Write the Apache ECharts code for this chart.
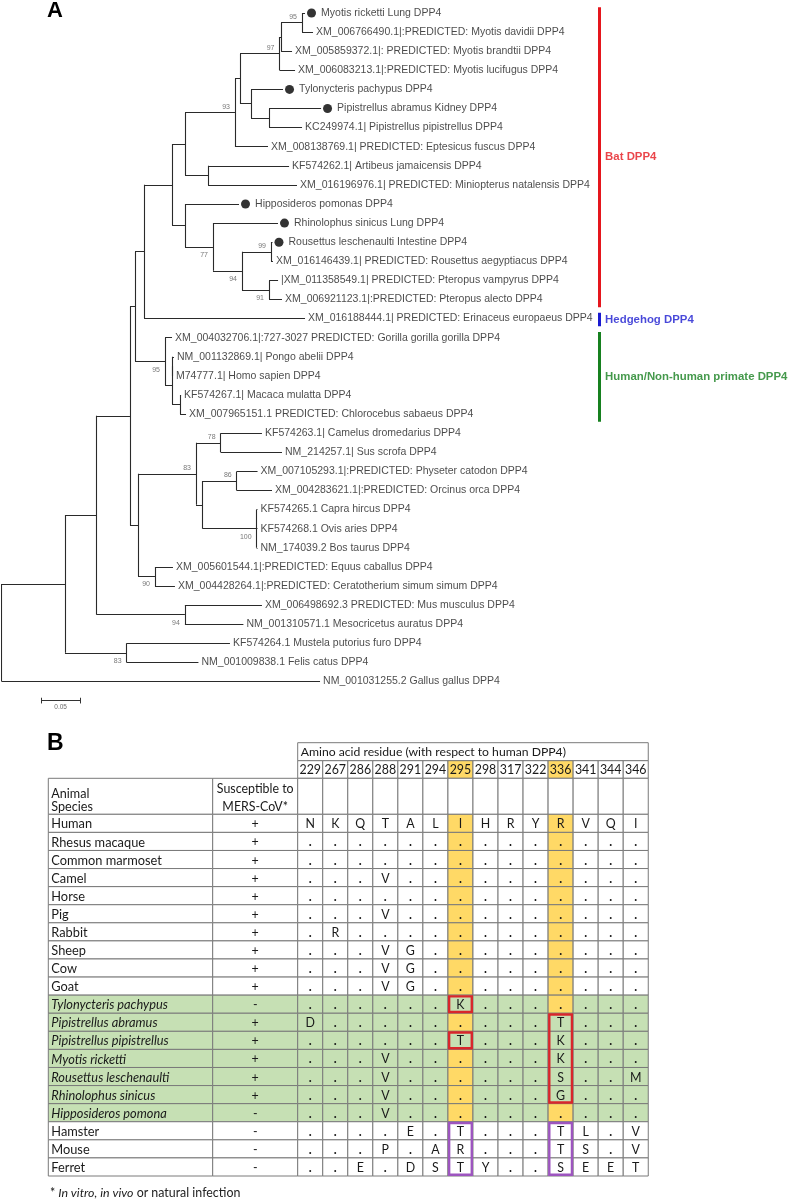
<!DOCTYPE html>
<html><head><meta charset="utf-8">
<script src="https://cdn.jsdelivr.net/npm/echarts@6/dist/echarts.min.js"></script>
<style>html,body{margin:0;padding:0;background:#fff}#c{width:790px;height:1199px}</style>
</head><body><div id="c"></div>
<script>
// ================= Panel A data =================
const leafLabels = [
  'Myotis ricketti Lung DPP4',
  'XM_006766490.1|:PREDICTED: Myotis davidii DPP4',
  'XM_005859372.1|: PREDICTED: Myotis brandtii DPP4',
  'XM_006083213.1|:PREDICTED: Myotis lucifugus DPP4',
  'Tylonycteris pachypus DPP4',
  'Pipistrellus abramus Kidney DPP4',
  'KC249974.1| Pipistrellus pipistrellus DPP4',
  'XM_008138769.1| PREDICTED: Eptesicus fuscus DPP4',
  'KF574262.1| Artibeus jamaicensis DPP4',
  'XM_016196976.1| PREDICTED: Miniopterus natalensis DPP4',
  'Hipposideros pomonas DPP4',
  'Rhinolophus sinicus Lung DPP4',
  'Rousettus leschenaulti Intestine DPP4',
  'XM_016146439.1| PREDICTED: Rousettus aegyptiacus DPP4',
  '|XM_011358549.1| PREDICTED: Pteropus vampyrus DPP4',
  'XM_006921123.1|:PREDICTED: Pteropus alecto DPP4',
  'XM_016188444.1| PREDICTED: Erinaceus europaeus DPP4',
  'XM_004032706.1|:727-3027 PREDICTED: Gorilla gorilla gorilla DPP4',
  'NM_001132869.1| Pongo abelii DPP4',
  'M74777.1| Homo sapien DPP4',
  'KF574267.1| Macaca mulatta DPP4',
  'XM_007965151.1 PREDICTED: Chlorocebus sabaeus DPP4',
  'KF574263.1| Camelus dromedarius DPP4',
  'NM_214257.1| Sus scrofa DPP4',
  'XM_007105293.1|:PREDICTED: Physeter catodon DPP4',
  'XM_004283621.1|:PREDICTED: Orcinus orca DPP4',
  'KF574265.1 Capra hircus DPP4',
  'KF574268.1 Ovis aries DPP4',
  'NM_174039.2 Bos taurus DPP4',
  'XM_005601544.1|:PREDICTED: Equus caballus DPP4',
  'XM_004428264.1|:PREDICTED: Ceratotherium simum simum DPP4',
  'XM_006498692.3 PREDICTED: Mus musculus DPP4',
  'NM_001310571.1 Mesocricetus auratus DPP4',
  'KF574264.1 Mustela putorius furo DPP4',
  'NM_001009838.1 Felis catus DPP4',
  'NM_001031255.2 Gallus gallus DPP4'
];
// leaves carrying a filled circle (sequences from this study)
const markedLeaves = [0, 4, 5, 10, 11, 12];
// tree topology: leaf names are indices into leafLabels, internal labels are bootstrap values
const treeNewick =
  "((((((((((((" +
  "(0:0.0038,1:0.014)95" +
  ":0.0267,2:0.014)" +
  ":0.0019,3:0.0197)97" +
  ":0.0503,(4:0.0407,(5:0.0662,6:0.042):0.0229):0.014)" +
  ":0.0064,7:0.042)93" +
  ":0.0636,(8:0.1031,9:0.1132):0.0293)" +
  ":0.0165,(10:0.0687,(11:0.0827,((12:0.0019,13:0.0025)99:0.0369,(14:0.0115,15:0.0165)91:0.0344)94:0.0369)77:0.0356):0.0165)" +
  ":0.0356,16:0.2048)" +
  ":0.0115,(17:0.0089,((18:0.0019,19:0.0006):0.0006,(20:0.0013,21:0.0076):0.0102):0.0089)95:0.0382)" +
  ":0.0064,(((22:0.0525,23:0.078)78:0.0314,((24:0.0265,25:0.0449)86:0.0433,(26:0.001,27:0.001,28:0.001)100:0.0687):0.0085)83:0.0738,(29:0.0229,30:0.0254)90:0.0216):0.0102)" +
  ":0.0424,(31:0.098,32:0.0744)94:0.1123)" +
  ":0.0403,(33:0.1314,34:0.0913)83:0.0785)" +
  ":0.0805,35:0.405);";
const cladeNames = ['Bat DPP4', 'Hedgehog DPP4', 'Human/Non-human primate DPP4'];
const cladeFirstLeaf = [0, 16, 17];
const cladeLastLeaf = [15, 16, 21];
const cladeColors = ['#e5161d', '#1a1ad0', '#16801f'];
const scaleBarValue = 0.05;
const scaleBarLabel = '0.05';

// ================= Panel B data =================
const tableTitle = 'Amino acid residue (with respect to human DPP4)';
const headerSpecies = 'Animal\nSpecies';
const headerSusceptible = 'Susceptible to\nMERS-CoV*';
const positions = ['229','267','286','288','291','294','295','298','317','322','336','341','344','346'];
const highlightPositions = ['295', '336'];
const species = ['Human','Rhesus macaque','Common marmoset','Camel','Horse','Pig','Rabbit','Sheep','Cow','Goat',
  'Tylonycteris pachypus','Pipistrellus abramus','Pipistrellus pipistrellus','Myotis ricketti',
  'Rousettus leschenaulti','Rhinolophus sinicus','Hipposideros pomona','Hamster','Mouse','Ferret'];
const batSpecies = ['Tylonycteris pachypus','Pipistrellus abramus','Pipistrellus pipistrellus','Myotis ricketti',
  'Rousettus leschenaulti','Rhinolophus sinicus','Hipposideros pomona'];
const susceptible = ['+','+','+','+','+','+','+','+','+','+','-','+','+','+','+','+','-','-','-','-'];
const residues = [
  'NKQTALIHRYRVQI',
  '..............',
  '..............',
  '...V..........',
  '..............',
  '...V..........',
  '.R............',
  '...VG.........',
  '...VG.........',
  '...VG.........',
  '......K.......',
  'D.........T...',
  '......T...K...',
  '...V......K...',
  '...V......S..M',
  '...V......G...',
  '...V..........',
  '....E.T...TL.V',
  '...P.AR...TS.V',
  '..E.DSTY..SEET'
];
// boxes: [position, first species, last species]
const redBoxes = [['295','Tylonycteris pachypus','Tylonycteris pachypus'],
                  ['295','Pipistrellus pipistrellus','Pipistrellus pipistrellus'],
                  ['336','Pipistrellus abramus','Rhinolophus sinicus']];
const purpleBoxes = [['295','Hamster','Ferret'], ['336','Hamster','Ferret']];
const footnoteParts = ['*', ' In vitro, in vivo', ' or natural infection'];

// ================= layout / style constants =================
const TREE_FONT = "'Liberation Sans', Arial, sans-serif";
const TABLE_FONT = "Lato, 'Open Sans', sans-serif";
const CLADE_BAR_X = 0.76;
const GREEN = '#c6e0b4', YELLOW = '#ffd966', GRIDLINE = '#7a7a7a';
const RED = '#d9262b', PURPLE = '#9d55bf';
const TW = {species: 164.4, susc: 85, res: 25.04};
const TH = {title: 18, pos: 17.6, head: 36, row: 18.085};

// ================= tree building =================
function parseNewick(s) {
  let i = 0;
  function node() {
    const n = {children: []};
    if (s[i] === '(') {
      i++;
      n.children.push(node());
      while (s[i] === ',') { i++; n.children.push(node()); }
      i++;
    }
    let name = '';
    while (i < s.length && !':,);'.includes(s[i])) name += s[i++];
    n.len = 0;
    if (s[i] === ':') {
      i++; let len = '';
      while (i < s.length && !',);'.includes(s[i])) len += s[i++];
      n.len = parseFloat(len);
    }
    if (n.children.length) n.support = name; else n.leaf = parseInt(name, 10);
    return n;
  }
  return node();
}
const tree = parseNewick(treeNewick);
const tips = [];
(function place(n, depth) {
  n.x = depth;
  if (n.children.length) {
    n.children.forEach(c => place(c, depth + c.len));
    n.y = (n.children[0].y + n.children[n.children.length - 1].y) / 2;
  } else { n.y = n.leaf; tips[n.leaf] = depth; }
})(tree, 0);
const segments = [], supports = [];
(function walk(n) {
  if (!n.children.length) return;
  const f = n.children[0], l = n.children[n.children.length - 1];
  segments.push([[n.x, f.y], [n.x, l.y]]);
  n.children.forEach((c, i) => {
    segments.push([[n.x, c.y], [c.x, c.y]]);
    if (c.children.length && c.support) supports.push({value: [c.x, c.y], text: c.support, above: i === 0});
    walk(c);
  });
})(tree);

// ================= table building =================
const resX = k => TW.species + TW.susc + k * TW.res;
const rowTop = r => TH.title + TH.pos + TH.head + r * TH.row;
const toBox = (b, color) => ({col: b[0], r0: species.indexOf(b[1]), r1: species.indexOf(b[2]), color});
const boxes = redBoxes.map(b => toBox(b, RED)).concat(purpleBoxes.map(b => toBox(b, PURPLE)));
const cells = [];
cells.push({x0: resX(0), y0: 0, x1: resX(positions.length), y1: TH.title, text: tableTitle, align: 'left', fill: '#fff', size: 12.2});
positions.forEach((p, k) => cells.push({x0: resX(k), y0: TH.title, x1: resX(k + 1), y1: TH.title + TH.pos, text: p,
  fill: highlightPositions.includes(p) ? YELLOW : '#fff'}));
const hy0 = TH.title + TH.pos, hy1 = hy0 + TH.head;
cells.push({x0: 0, y0: hy0, x1: TW.species, y1: hy1, text: headerSpecies, align: 'left', lineHeight: 13, dy: 4.5, fill: '#fff', size: 12.6});
cells.push({x0: TW.species, y0: hy0, x1: resX(0), y1: hy1, text: headerSusceptible, lineHeight: 18, dy: 2, fill: '#fff'});
positions.forEach((p, k) => cells.push({x0: resX(k), y0: hy0, x1: resX(k + 1), y1: hy1, text: '', fill: '#fff'}));
species.forEach((s, r) => {
  const bat = batSpecies.includes(s);
  const base = bat ? GREEN : '#fff';
  const y0 = rowTop(r), y1 = y0 + TH.row;
  cells.push({x0: 0, y0, x1: TW.species, y1, text: s, align: 'left', italic: bat, fill: base, dy: 1, size: 12.8});
  cells.push({x0: TW.species, y0, x1: resX(0), y1, text: susceptible[r], fill: base, dy: 1});
  residues[r].split('').forEach((ch, k) => {
    const p = positions[k];
    const inBox = boxes.some(b => b.col === p && r >= b.r0 && r <= b.r1);
    cells.push({x0: resX(k), y0, x1: resX(k + 1), y1, text: ch, dy: 1, bold: ch === '.',
      fill: highlightPositions.includes(p) && !inBox ? YELLOW : base});
  });
});
const boxRects = boxes.map(b => {
  const k = positions.indexOf(b.col);
  return {x0: resX(k), y0: rowTop(b.r0), x1: resX(k + 1), y1: rowTop(b.r1) + TH.row, color: b.color};
});

// ================= chart =================
const chart = echarts.init(document.getElementById('c'), null, {renderer: 'canvas'});
const ROW_PX = 19.1, UNIT_PX = 786;
const Y_MIN = -0.5, Y_MAX = 36.5, X_MAX = 0.8;

const option = {
  animation: false,
  backgroundColor: '#fff',
  grid: [
    {left: 1.7, top: 13 + Y_MIN * ROW_PX, width: X_MAX * UNIT_PX, height: (Y_MAX - Y_MIN) * ROW_PX},
    {left: 48.3, top: 742.7, width: 600, height: rowTop(species.length)}
  ],
  xAxis: [
    {gridIndex: 0, type: 'value', min: 0, max: X_MAX, show: false},
    {gridIndex: 1, type: 'value', min: 0, max: 600, show: false}
  ],
  yAxis: [
    {gridIndex: 0, type: 'value', min: Y_MIN, max: Y_MAX, inverse: true, show: false},
    {gridIndex: 1, type: 'value', min: 0, max: rowTop(species.length), inverse: true, show: false}
  ],
  graphic: [
    {type: 'text', left: 47, top: 0, style: {text: 'A', font: "bold 22px 'Liberation Sans', Arial", fill: '#000'}},
    {type: 'text', left: 47, top: 732, style: {text: 'B', font: "bold 23px 'Liberation Sans', Arial", fill: '#000'}},
    {type: 'text', left: 50, top: 1187, style: {
      text: '{n|' + footnoteParts[0] + '}{i|' + footnoteParts[1] + '}{n|' + footnoteParts[2] + '}',
      rich: {n: {fontFamily: 'Lato', fontSize: 12.4, fill: '#222'},
             i: {fontFamily: 'Lato', fontSize: 12.4, fontStyle: 'italic', fill: '#222'}}}}
  ],
  series: [
    {type: 'lines', coordinateSystem: 'cartesian2d', xAxisIndex: 0, yAxisIndex: 0, silent: true,
     lineStyle: {color: '#2a2a2a', width: 1.1, opacity: 1, curveness: 0},
     data: segments.map(s => ({coords: s}))},
    {type: 'scatter', xAxisIndex: 0, yAxisIndex: 0, silent: true, symbolSize: 9, symbolOffset: [6.5, 0],
     itemStyle: {color: '#000'}, data: markedLeaves.map(i => [tips[i], i])},
    {type: 'scatter', xAxisIndex: 0, yAxisIndex: 0, silent: true, symbolSize: 0.1,
     itemStyle: {color: 'transparent'},
     label: {show: true, position: 'right', fontFamily: TREE_FONT, fontSize: 10.5, color: '#1a1a1a',
             formatter: p => p.name},
     data: leafLabels.map((t, i) => ({name: t, value: [tips[i], i],
       label: {distance: markedLeaves.includes(i) ? 16 : 3}}))},
    {type: 'scatter', xAxisIndex: 0, yAxisIndex: 0, silent: true, symbolSize: 0.1,
     itemStyle: {color: 'transparent'},
     label: {show: true, position: 'left', distance: 5, fontFamily: TREE_FONT, fontSize: 7, color: '#555',
             formatter: p => p.name},
     data: supports.map(s => ({name: s.text, value: s.value, label: {offset: [0, s.above ? -5.5 : 8]}}))},
    {type: 'lines', coordinateSystem: 'cartesian2d', xAxisIndex: 0, yAxisIndex: 0, silent: true,
     data: cladeNames.map((n, i) => ({coords: [[CLADE_BAR_X, cladeFirstLeaf[i] - 0.3], [CLADE_BAR_X, cladeLastLeaf[i] + 0.4]],
       lineStyle: {color: cladeColors[i], width: 3, opacity: 1}}))},
    {type: 'scatter', xAxisIndex: 0, yAxisIndex: 0, silent: true, symbolSize: 0.1,
     itemStyle: {color: 'transparent'},
     data: cladeNames.map((n, i) => ({name: n, value: [CLADE_BAR_X, (cladeFirstLeaf[i] - 0.3 + cladeLastLeaf[i] + 0.4) / 2],
       label: {show: true, position: 'right', distance: 6, formatter: n, color: cladeColors[i],
               fontFamily: TREE_FONT, fontWeight: 'bold', fontSize: 11.4}}))},
    {type: 'lines', coordinateSystem: 'cartesian2d', xAxisIndex: 0, yAxisIndex: 0, silent: true,
     lineStyle: {color: '#333', width: 1, opacity: 1},
     data: [
       {coords: [[scaleBarValue, 36], [2 * scaleBarValue, 36]]},
       {coords: [[scaleBarValue, 35.85], [scaleBarValue, 36.15]]},
       {coords: [[2 * scaleBarValue, 35.85], [2 * scaleBarValue, 36.15]]}
     ]},
    {type: 'scatter', xAxisIndex: 0, yAxisIndex: 0, silent: true, symbolSize: 0.1,
     itemStyle: {color: 'transparent'},
     label: {show: true, position: 'bottom', distance: 3, formatter: scaleBarLabel, fontFamily: TREE_FONT,
             fontSize: 6.5, color: '#444'},
     data: [[1.5 * scaleBarValue, 36]]},
    {type: 'custom', xAxisIndex: 1, yAxisIndex: 1, silent: true, clip: false,
     dimensions: ['x0', 'y0', 'x1', 'y1'], encode: {x: [0, 2], y: [1, 3]},
     data: cells.map(c => [c.x0, c.y0, c.x1, c.y1]),
     renderItem: (params, api) => {
       const c = cells[params.dataIndex];
       const p0 = api.coord([api.value(0), api.value(1)]);
       const p1 = api.coord([api.value(2), api.value(3)]);
       const children = [{type: 'rect', shape: {x: p0[0], y: p0[1], width: p1[0] - p0[0], height: p1[1] - p0[1]},
         style: {fill: c.fill, stroke: GRIDLINE, lineWidth: 1}}];
       if (c.text) {
         children.push({type: 'text', z2: 10, style: {
           text: c.text,
           x: c.align === 'left' ? p0[0] + 3 : (p0[0] + p1[0]) / 2,
           y: (p0[1] + p1[1]) / 2 + (c.dy || 0),
           align: c.align === 'left' ? 'left' : 'center', verticalAlign: 'middle',
           fontFamily: TABLE_FONT, fontSize: c.size || 12.4, fontStyle: c.italic ? 'italic' : 'normal',
           fontWeight: c.bold ? 'bold' : 'normal',
           lineHeight: c.lineHeight || 14, fill: '#1a1a1a'}});
       }
       return {type: 'group', children};
     }},
    {type: 'custom', xAxisIndex: 1, yAxisIndex: 1, silent: true, clip: false, z: 5,
     dimensions: ['x0', 'y0', 'x1', 'y1'], encode: {x: [0, 2], y: [1, 3]},
     data: boxRects.map(b => [b.x0, b.y0, b.x1, b.y1]),
     renderItem: (params, api) => {
       const b = boxRects[params.dataIndex];
       const p0 = api.coord([api.value(0), api.value(1)]);
       const p1 = api.coord([api.value(2), api.value(3)]);
       return {type: 'rect', shape: {x: p0[0] + 1.2, y: p0[1] + 1.2, width: p1[0] - p0[0] - 2.4, height: p1[1] - p0[1] - 2.4},
         style: {fill: 'none', stroke: b.color, lineWidth: 2.4}};
     }}
  ]
};
chart.setOption(option);
</script>
</body></html>
